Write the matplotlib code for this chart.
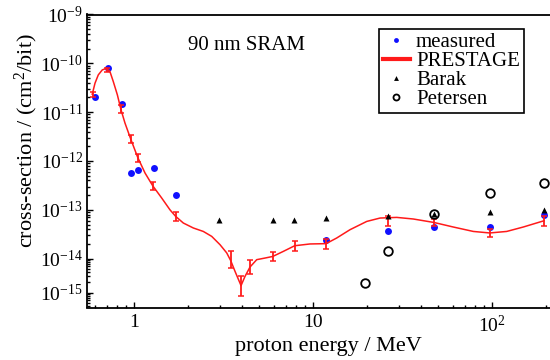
import numpy as np
import matplotlib
matplotlib.use("Agg")
import matplotlib.pyplot as plt
from matplotlib.ticker import LogLocator, FuncFormatter, NullFormatter, FixedLocator

plt.rcParams.update({
    "font.family": "serif",
    "font.serif": ["Liberation Serif", "DejaVu Serif"],
    "mathtext.fontset": "custom",
    "mathtext.rm": "Liberation Serif",
    "mathtext.it": "Liberation Serif:italic",
    "mathtext.bf": "Liberation Serif:bold",
    "axes.unicode_minus": True,
})

BLUE = "#1010ff"
RED = "#ff1a1a"

# ── data (energy in MeV, cross-section in cm^2/bit) ─────────────────────────
measured_E = [0.6, 0.71, 0.85, 0.96, 1.05, 1.28, 1.7, 11.8, 26.2, 47.1, 97.5, 194]
measured_xs = [2.0e-11, 7.9e-11, 1.48e-11, 5.8e-13, 6.5e-13, 7.3e-13, 2.0e-13,
               2.45e-14, 3.7e-14, 4.5e-14, 4.5e-14, 7.7e-14]

prestage_E = [0.59, 0.707, 0.843, 0.955, 1.045, 1.267, 1.70, 3.46, 3.95, 4.43,
              5.93, 7.87, 11.8, 26.2, 47.1, 96.7, 194]
prestage_xs = [2.3e-11, 7.3e-11, 1.15e-11, 2.8e-12, 1.17e-12, 3.1e-13, 7.3e-14,
               8.7e-15, 1.6e-15, 5.7e-15, 1.11e-14, 1.85e-14, 2.0e-14, 6.0e-14,
               5.5e-14, 3.4e-14, 6.0e-14]
prestage_err_dec = [0.05, 0.05, 0.08, 0.08, 0.08, 0.08, 0.1, 0.22, 0.3, 0.2,
                    0.1, 0.1, 0.1, 0.1, 0.08, 0.08, 0.1]

curve_E = [0.582, 0.603, 0.629, 0.662, 0.701, 0.731, 0.763, 0.804, 0.843, 0.887,
           0.955, 1.045, 1.148, 1.267, 1.423, 1.582, 1.703, 1.878, 2.136, 2.429,
           2.706, 3.012, 3.283, 3.456, 3.652, 3.946, 4.153, 4.431, 4.829, 5.373,
           5.932, 6.80, 7.87, 9.58, 11.78, 13.51, 16.03, 19.88, 23.59, 29.24,
           36.2, 47.1, 60.5, 78.3, 96.7, 120.3, 149.0, 194.5]
curve_xs = [2.33e-11, 3.92e-11, 5.8e-11, 7.33e-11, 7.94e-11, 6.76e-11, 4.23e-11,
            2.26e-11, 1.11e-11, 5.96e-12, 2.81e-12, 1.18e-12, 5.66e-13, 3.11e-13,
            1.74e-13, 1.0e-13, 7.33e-14, 5.37e-14, 4.25e-14, 3.61e-14, 2.86e-14,
            1.93e-14, 1.31e-14, 8.73e-15, 4.23e-15, 1.61e-15, 3.01e-15, 5.7e-15,
            9.35e-15, 1.03e-14, 1.11e-14, 1.41e-14, 1.84e-14, 2.0e-14, 2.03e-14,
            2.65e-14, 3.92e-14, 5.79e-14, 6.79e-14, 7.0e-14, 6.49e-14, 5.52e-14,
            4.45e-14, 3.61e-14, 3.36e-14, 3.61e-14, 4.45e-14, 5.98e-14]

barak_E = [2.97, 5.93, 7.83, 11.8, 26.2, 47.1, 96.7, 194]
barak_xs = [6.1e-14, 6.3e-14, 6.3e-14, 6.8e-14, 7.6e-14, 8.2e-14, 9.1e-14, 1.0e-13]

petersen_E = [19.5, 26.2, 47.1, 96.7, 194]
petersen_xs = [1.9e-15, 1.45e-14, 8.2e-14, 2.2e-13, 3.6e-13]

x_ticks = [1, 10, 100]
x_ticklabels = ["1", "10", r"$10^{2}$"]
y_ticks = [1e-15, 1e-14, 1e-13, 1e-12, 1e-11, 1e-10, 1e-9]

# ── y scale: log, with the last decade below 1e-14 squeezed ─────────────────
Y_BREAK = -14.0
K = 34 / 48.9


def fwd(y):
    t = np.log10(np.clip(np.asarray(y, dtype=float), 1e-300, None))
    return np.where(t >= Y_BREAK, t, Y_BREAK + (t - Y_BREAK) * K)


def inv(u):
    u = np.asarray(u, dtype=float)
    return np.where(u >= Y_BREAK, 10.0 ** u, 10.0 ** (Y_BREAK + (u - Y_BREAK) / K))


fig = plt.figure(figsize=(5.5, 3.6), dpi=100)
ax = fig.add_axes([87 / 550, 52.5 / 360, 463 / 550, 293 / 360])

ax.set_xscale("log")
ax.set_yscale("function", functions=(fwd, inv))

ax.plot(measured_E, measured_xs, "o", color=BLUE, ms=5, mec="none", zorder=2,
        label="measured")

p_xs = np.array(prestage_xs)
p_err = np.array(prestage_err_dec)
lo = p_xs - p_xs / 10 ** p_err
hi = p_xs * 10 ** p_err - p_xs
ax.plot(curve_E, curve_xs, "-", color=RED, lw=1.1, zorder=3, label="PRESTAGE")
ax.errorbar(prestage_E, prestage_xs, yerr=[lo, hi], fmt="none", ecolor=RED,
            elinewidth=1.3, capsize=2.2, capthick=1.1, zorder=3)

ax.plot(barak_E, barak_xs, "^", color="black", ms=5, mec="none", zorder=4,
        label="Barak")
ax.plot(petersen_E, petersen_xs, "o", mfc="none", mec="black", mew=1.3, ms=6.2,
        zorder=4, label="Petersen")

ax.set_xlim(0.544, 210)
ax.set_ylim(float(inv(-15.0)), 1e-9)

ax.set_xticks(x_ticks)
ax.set_xticklabels(x_ticklabels)
ax.xaxis.set_minor_locator(LogLocator(base=10, subs=np.arange(2, 10), numticks=100))
ax.xaxis.set_minor_formatter(NullFormatter())

ax.yaxis.set_major_locator(FixedLocator(y_ticks))
ax.yaxis.set_minor_locator(LogLocator(base=10, subs=np.arange(2, 10), numticks=200))
ax.yaxis.set_minor_formatter(NullFormatter())
ax.yaxis.set_major_formatter(FuncFormatter(
    lambda v, pos: r"$10^{%d}$" % int(round(np.log10(v)))))

ax.tick_params(which="both", direction="in", top=False, right=False, width=1.0,
               labelsize=14)
ax.tick_params(which="major", length=4)
ax.tick_params(which="minor", length=2)
ax.tick_params(axis="x", pad=5)
ax.tick_params(axis="y", pad=3)

for side in ["left", "bottom", "top"]:
    ax.spines[side].set_linewidth(1.3)
ax.spines["right"].set_visible(False)

fig.text(328 / 550, 1 - 347 / 360, "proton energy / MeV", fontsize=16,
         ha="center", va="center")
fig.text(26 / 550, 1 - 141 / 360, r"cross-section / (cm$^{2}$/bit)", fontsize=16,
         ha="center", va="center", rotation=90)
fig.text(246 / 550, 1 - 45 / 360, "90 nm SRAM", fontsize=15, ha="center",
         va="center")

leg = ax.legend(loc="upper left", bbox_to_anchor=(379 / 550, 1 - 29 / 360),
                bbox_transform=fig.transFigure, fontsize=15, frameon=True,
                fancybox=False, framealpha=1, edgecolor="black",
                borderpad=0.18, labelspacing=-0.03, handlelength=1.3,
                handletextpad=0.3, markerscale=0.7, borderaxespad=0)
leg.get_frame().set_linewidth(1.2)
for h in leg.get_lines():
    if h.get_label() == "PRESTAGE":
        h.set_linewidth(3)

fig.savefig("out.png", dpi=100)
